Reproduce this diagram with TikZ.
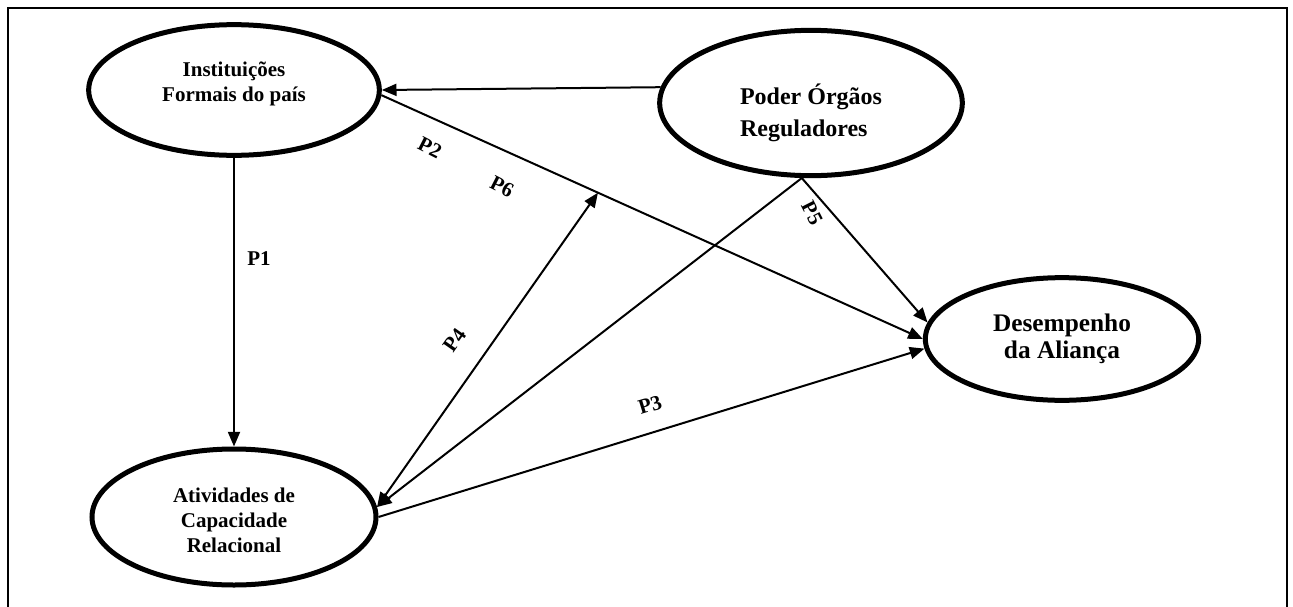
\documentclass[tikz,border=0pt]{standalone}
\usepackage{fontspec}
\setmainfont{Liberation Serif}
\usetikzlibrary{shapes.geometric,arrows.meta}
\tikzstyle{arrow} = [line width=1.5pt,-{Triangle[length=11pt,width=9pt]}]
\tikzstyle{construct} = [ellipse,draw,line width=3.75pt,inner sep=0pt,align=center]
\tikzstyle{plabel} = [inner sep=0.75pt,font=\fontsize{15.75}{18}\selectfont\bfseries]

\begin{document}
\begin{tikzpicture}[x=0.75pt,y=0.75pt,yscale=-1,xscale=1]
\useasboundingbox (0,0) rectangle (1293,607);

%Frame
\draw [line width=2pt] (8,607) -- (8,8) -- (1287,8) -- (1287,607);

%Shape: Ellipse [Instituicoes]
\node [construct,minimum width=218pt,minimum height=98pt,font=\fontsize{15.75}{18.5}\selectfont\bfseries] (inst) at (234,90) {Instituições\\Formais do país\rule[-12.5pt]{0pt}{12.5pt}};
%Shape: Ellipse [Poder]
\node [construct,align=left,minimum width=227pt,minimum height=109pt,font=\fontsize{18}{24}\selectfont\bfseries] (poder) at (811,103) {\rule{0pt}{30pt}Poder Órgãos\\Reguladores};
%Shape: Ellipse [Desempenho]
\node [construct,minimum width=205pt,minimum height=92pt,font=\fontsize{19}{20.5}\selectfont\bfseries] (desemp) at (1062,339) {Desempenho\\da Aliança};
%Shape: Ellipse [Atividades]
\node [construct,minimum width=213pt,minimum height=102pt,font=\fontsize{15.75}{18.75}\selectfont\bfseries] (ativ) at (234,517) {\rule{0pt}{16pt}Atividades de\\Capacidade\\Relacional};

%Straight Lines
\draw [arrow] (poder.174) -- (inst.east);
%Straight Lines
\draw [arrow] (inst.-2) -- coordinate[pos=0.4] (hit) (desemp.180);
%Straight Lines
\draw [arrow] (inst.south) -- (ativ.north);
%Straight Lines
\draw [arrow] (poder.263) -- (desemp.173);
%Straight Lines
\draw [arrow] (poder.263) -- (ativ.4);
%Straight Lines
\draw [arrow,{Triangle[length=11pt,width=9pt]}-{Triangle[length=11pt,width=9pt]}] (ativ.4) -- (hit);
%Straight Lines
\draw [arrow] (ativ.east) -- (desemp.184);

% Text Node
\node [plabel] (p1) at (259,259) {P1};
% Text Node
\node [plabel,rotate=-27] (p2) at (430,148) {P2};
% Text Node
\node [plabel,rotate=-27] (p6) at (502,187) {P6};
% Text Node
\node [plabel,rotate=-63] (p5) at (812,213) {P5};
% Text Node
\node [plabel,rotate=55] (p4) at (455,340) {P4};
% Text Node
\node [plabel,rotate=17] (p3) at (650,405) {P3};

\end{tikzpicture}
\end{document}
